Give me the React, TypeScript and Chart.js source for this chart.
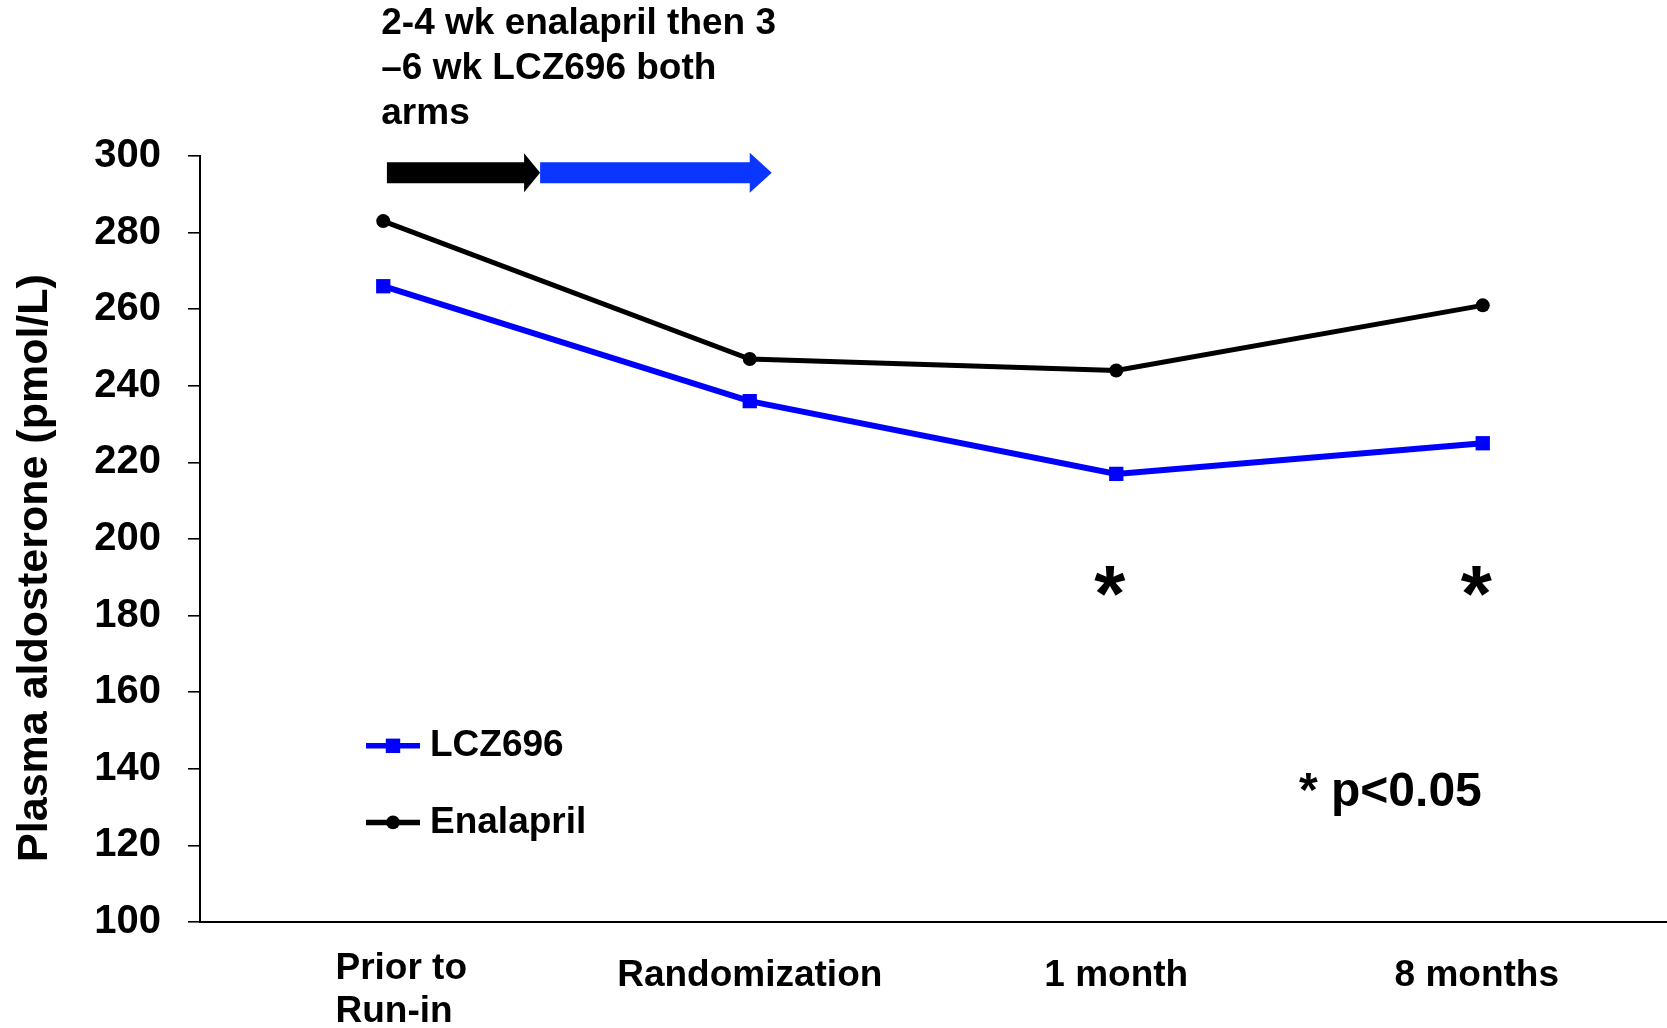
import React, { useEffect, useRef } from "react";
import { Chart, registerables } from "chart.js";

Chart.register(...registerables);

const categories: (string | string[])[] = [["Prior to", "Run-in"], "Randomization", "1 month", "8 months"];
const lczValues = [266, 236, 217, 225];
const enalaprilValues = [283, 247, 244, 261];
const yMin = 100;
const yMax = 300;
const yStep = 20;
const sigIndices = [2, 3];
const annotationLines = ["2-4 wk enalapril then 3", "\u20136 wk LCZ696 both", "arms"];
const yTitle = "Plasma aldosterone (pmol/L)";
const pNote = "* p<0.05";
const seriesLabels = ["LCZ696", "Enalapril"];

const FONT = "'Liberation Sans', Arial, Helvetica, sans-serif";
const BLUE = "#0000FF";
const ARROW_BLUE = "#0A36FF";

function drawArrow(ctx: CanvasRenderingContext2D, x0: number, x1: number, y: number, sh: number, hh: number, hl: number, color: string) {
  ctx.beginPath();
  ctx.moveTo(x0, y - sh / 2);
  ctx.lineTo(x1 - hl, y - sh / 2);
  ctx.lineTo(x1 - hl, y - hh / 2);
  ctx.lineTo(x1, y);
  ctx.lineTo(x1 - hl, y + hh / 2);
  ctx.lineTo(x1 - hl, y + sh / 2);
  ctx.lineTo(x0, y + sh / 2);
  ctx.closePath();
  ctx.fillStyle = color;
  ctx.fill();
}

function fillInkCentered(ctx: CanvasRenderingContext2D, text: string, cx: number, cy: number) {
  ctx.textAlign = "left";
  ctx.textBaseline = "alphabetic";
  const m = ctx.measureText(text);
  const inkW = m.actualBoundingBoxLeft + m.actualBoundingBoxRight;
  const x = cx - inkW / 2 + m.actualBoundingBoxLeft;
  const y = cy + (m.actualBoundingBoxAscent - m.actualBoundingBoxDescent) / 2;
  ctx.fillText(text, x, y);
}

const overlayPlugin = {
  id: "overlay",
  afterDraw(chart: any) {
    const ctx: CanvasRenderingContext2D = chart.ctx;
    const xs = chart.scales.x;
    const ys = chart.scales.y;
    const ca = chart.chartArea;
    const x0 = xs.getPixelForValue(0);
    const step = xs.getPixelForValue(1) - x0;
    ctx.save();

    // Y title
    ctx.save();
    ctx.translate(35, 568);
    ctx.rotate(-Math.PI / 2);
    ctx.font = `bold 43px ${FONT}`;
    ctx.fillStyle = "#000";
    ctx.textAlign = "center";
    ctx.textBaseline = "middle";
    ctx.fillText(yTitle, 0, 0);
    ctx.restore();

    // Category labels
    ctx.font = `bold 37px ${FONT}`;
    ctx.fillStyle = "#000";
    ctx.textBaseline = "middle";
    categories.forEach((c, i) => {
      const px = xs.getPixelForValue(i);
      if (Array.isArray(c)) {
        const w = Math.max(...c.map((t) => ctx.measureText(t).width));
        ctx.textAlign = "left";
        c.forEach((t, j) => ctx.fillText(t, px + 18 - w / 2, ca.bottom + 47 + j * 43));
      } else {
        ctx.textAlign = "center";
        ctx.fillText(c, px - (i === categories.length - 1 ? 6 : 0), ca.bottom + 54);
      }
    });

    // Annotation text
    ctx.font = `bold 37px ${FONT}`;
    ctx.fillStyle = "#000";
    ctx.textAlign = "left";
    ctx.textBaseline = "middle";
    annotationLines.forEach((t, i) => ctx.fillText(t, x0 - 2, 24 + i * 45));

    // Arrows
    const ay = ys.getPixelForValue(295.6);
    drawArrow(ctx, x0 + 0.01 * step, x0 + 0.428 * step, ay, 21, 39, 16, "#000");
    drawArrow(ctx, x0 + 0.428 * step, x0 + 1.06 * step, ay, 21, 40, 22, ARROW_BLUE);

    // Significance asterisks
    ctx.fillStyle = "#000";
    ctx.font = `bold 80px ${FONT}`;
    sigIndices.forEach((i) => {
      fillInkCentered(ctx, "*", xs.getPixelForValue(i) - 6, ys.getPixelForValue(189.0));
    });

    // p note
    ctx.fillStyle = "#000";
    ctx.font = `bold 48px ${FONT}`;
    ctx.textAlign = "left";
    ctx.textBaseline = "middle";
    ctx.fillText(pNote, ca.left + 1099, ys.getPixelForValue(133.7));

    // Legend
    const lx = ca.left + 166;
    const rows = [
      { label: seriesLabels[0], color: BLUE, style: "rect", v: 146.0 },
      { label: seriesLabels[1], color: "#000", style: "circle", v: 126.0 },
    ];
    rows.forEach((r) => {
      const y = ys.getPixelForValue(r.v);
      ctx.strokeStyle = r.color;
      ctx.lineWidth = 5.5;
      ctx.beginPath();
      ctx.moveTo(lx, y);
      ctx.lineTo(lx + 54, y);
      ctx.stroke();
      ctx.fillStyle = r.color;
      if (r.style === "rect") {
        ctx.fillRect(lx + 27 - 7.2, y - 7.2, 14.4, 14.4);
      } else {
        ctx.beginPath();
        ctx.arc(lx + 27, y, 6.8, 0, Math.PI * 2);
        ctx.fill();
      }
      ctx.fillStyle = "#000";
      ctx.font = `bold 37px ${FONT}`;
      ctx.textAlign = "left";
      ctx.textBaseline = "middle";
      ctx.fillText(r.label, lx + 64, y);
    });

    ctx.restore();
  },
};

export default function App() {
  const ref = useRef<HTMLCanvasElement | null>(null);
  useEffect(() => {
    if (!ref.current) return;
    const chart = new Chart(ref.current, {
      type: "line",
      data: {
        labels: categories as any,
        datasets: [
          {
            label: seriesLabels[0],
            data: lczValues,
            borderColor: BLUE,
            backgroundColor: BLUE,
            borderWidth: 6,
            pointStyle: "rect",
            pointRadius: 10.1,
            pointBorderWidth: 0,
            tension: 0,
          },
          {
            label: seriesLabels[1],
            data: enalaprilValues,
            borderColor: "#000",
            backgroundColor: "#000",
            borderWidth: 5,
            pointStyle: "circle",
            pointRadius: 7,
            pointBorderWidth: 0,
            tension: 0,
          },
        ],
      },
      options: {
        responsive: false,
        animation: false,
        layout: { autoPadding: false, padding: { left: 0, top: 156, right: 1, bottom: 0 } },
        plugins: {
          legend: { display: false },
          tooltip: { enabled: false },
          title: { display: false },
        },
        scales: {
          x: {
            offset: true,
            grid: { display: false, drawTicks: false },
            border: { display: true, color: "#000", width: 2 },
            ticks: { display: false },
            afterFit: (s: any) => {
              s.height = 106;
            },
          },
          y: {
            min: yMin,
            max: yMax,
            grid: {
              display: true,
              drawOnChartArea: false,
              drawTicks: true,
              tickLength: 12,
              color: "#000",
              lineWidth: 1.6,
            },
            border: { display: true, color: "#000", width: 2 },
            ticks: {
              stepSize: yStep,
              color: "#000",
              padding: 27,
              font: { family: FONT, size: 40, weight: "bold" },
            },
            afterFit: (s: any) => {
              s.width = 200;
            },
          },
        },
      },
      plugins: [overlayPlugin],
    });
    return () => chart.destroy();
  }, []);
  return (
    <div style={{ position: "absolute", left: 0, top: 0, width: 1667, height: 1028, background: "#fff" }}>
      <canvas ref={ref} width={1667} height={1028} style={{ display: "block" }} />
    </div>
  );
}
